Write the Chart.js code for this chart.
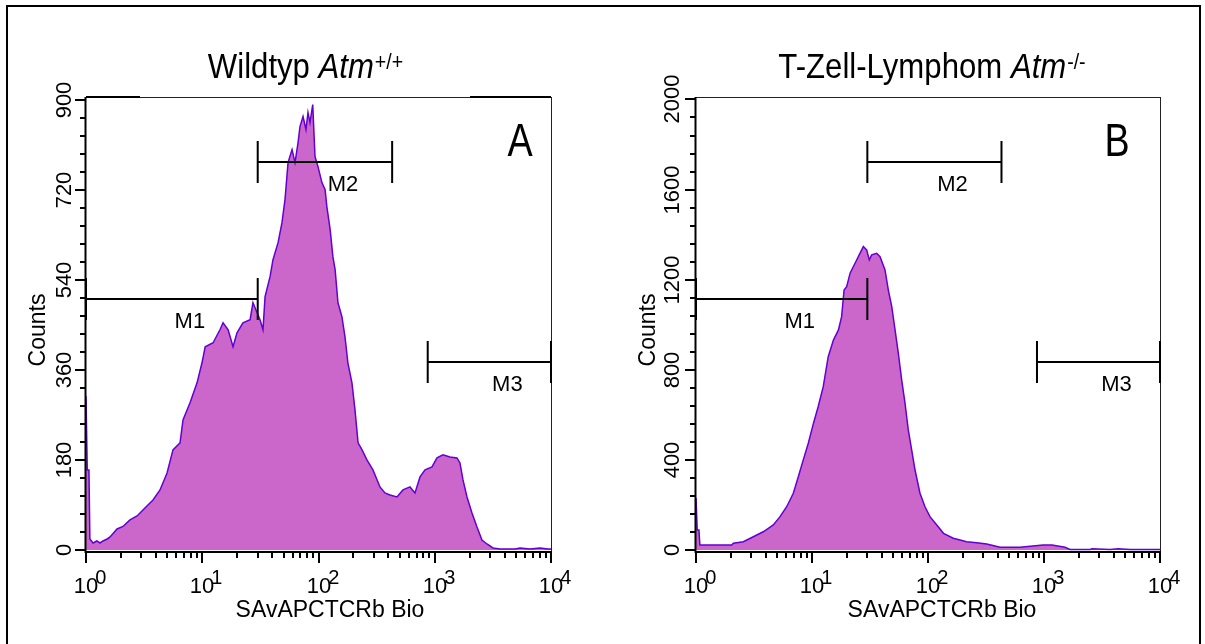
<!DOCTYPE html>
<html>
<head>
<meta charset="utf-8">
<script src="https://cdn.jsdelivr.net/npm/chart.js@4.4.1/dist/chart.umd.min.js"></script>
<style>
  html, body { margin: 0; padding: 0; background: #fff; overflow: hidden; }
  #page { position: relative; width: 1205px; height: 644px; }
  #frame { position: absolute; left: 6px; top: 5px; width: 1191px; height: 700px; border: 2px solid #000; }
  canvas { position: absolute; top: 0; }
</style>
</head>
<body>
<div id="page">
  <div id="frame"></div>
  <canvas id="chartA" width="602" height="644" style="left:0"></canvas>
  <canvas id="chartB" width="603" height="644" style="left:602px"></canvas>
</div>
<script>
// panel A: Wildtyp
const aX = [1.00, 1.02, 1.025, 1.06, 1.08, 1.15, 1.24, 1.32, 1.40, 1.52, 1.61, 1.71, 1.85, 2.08, 2.39, 2.75, 3.09, 3.55, 3.77, 4.33, 4.98,
  5.60, 6.44, 6.83, 7.85, 9.02, 9.95, 10.6, 12.4, 14.2, 15.1, 16.7, 18.4, 19.9, 22.4, 25.8, 27.3, 31.4, 33.3, 34.7, 38.3,
  40.6, 44.9, 48.5, 51.5, 54.7, 59.2, 62.8, 66.7, 69.3, 73.6, 78.0, 81.2, 84.5, 89.2, 93.3, 99.0, 107, 114, 118, 126,
  133, 139, 147, 159, 169, 179, 194, 206, 219, 237, 261, 294, 338, 373, 412, 473, 533, 612, 676, 747,
  825, 947, 1045, 1178, 1352, 1553, 1648, 1750, 1894, 2091, 2308, 2548, 2813, 3170, 3640, 4900, 5410, 6600, 8040, 9420, 10000];
const aCounts = [307, 307, 160, 160, 22, 14, 18, 14, 18, 22, 26, 33, 42, 47, 60, 68, 80, 94, 100, 120, 154,
  200, 214, 260, 294, 334, 374, 406, 414, 440, 454, 440, 406, 434, 454, 460, 494, 460, 440, 506, 546,
  580, 614, 654, 700, 774, 800, 774, 814, 846, 866, 840, 874, 854, 890, 786, 766, 734, 720, 686, 640,
  586, 560, 494, 466, 426, 374, 334, 280, 214, 200, 180, 160, 126, 114, 110, 106, 120, 126, 114, 146,
  160, 166, 184, 190, 186, 184, 174, 140, 106, 74, 46, 20, 12, 4, 2, 2, 4, 2, 4, 2, 2];

// panel B: T-Zell-Lymphom
const bX = [1.00, 1.02, 1.025, 1.06, 1.08, 1.20, 2.03, 2.10, 2.56, 3.12, 3.80, 4.64, 5.30, 6.05, 6.90, 7.62, 8.41, 9.29, 10.3, 11.3,
  12.5, 13.8, 15.3, 16.9, 18.0, 18.9, 19.9, 21.3, 23.5, 25.9, 27.7, 29.6, 31.2, 32.7, 36.1, 38.6, 42.6, 45.5, 48.7, 52.0,
  55.5, 59.3, 63.4, 67.6, 72.3, 77.3, 85.3, 94.2, 104, 119, 136, 165, 189, 215, 263, 321, 418, 621, 980, 1172,
  1518, 1675, 2496, 2594, 3710, 4346, 5510, 10000];
const bCounts = [231, 231, 89, 89, 22, 22, 22, 30, 37, 59, 81, 111, 148, 192, 252, 325, 400, 474, 563, 636,
  725, 858, 932, 977, 1036, 1154, 1169, 1229, 1273, 1317, 1347, 1332, 1288, 1310, 1317, 1302, 1243, 1154, 1080, 977,
  873, 755, 651, 533, 444, 355, 252, 192, 148, 111, 74, 52, 44, 37, 32, 27, 12, 12, 22, 22,
  12, 2, 2, 5, 2, 5, 2, 2];

// axis ticks
const xTicks = [1, 10, 100, 1000, 10000];
const xTickExp = ["0", "1", "2", "3", "4"];
const yTicksA = [0, 180, 360, 540, 720, 900];
const yTicksB = [0, 400, 800, 1200, 1600, 2000];

// markers M1..M3
const markerNames = ["M1", "M2", "M3"];
const markerLo = [1, 30, 870];
const markerHi = [30, 430, 10000];
const markerYA = [502, 776, 376];
const markerYB = [1116, 1723, 835];

const FONT = '"Liberation Sans", Arial, sans-serif';

function drawText(ctx, s, x, y, font, align, sx) {
    ctx.save();
    ctx.font = font;
    ctx.textAlign = align || "left";
    ctx.textBaseline = "alphabetic";
    ctx.translate(x, y);
    ctx.scale(sx || 1, 1);
    ctx.fillText(s, 0, 0);
    ctx.restore();
}

function drawTitle(ctx, cx, base, parts) {
    let sx = 0.89;
    let fonts = ["35px " + FONT, "italic 35px " + FONT, "22px " + FONT];
    let lifts = [0, 0, 9];
    let widths = parts.map(function (s, i) { ctx.font = fonts[i]; return ctx.measureText(s).width; });
    let total = widths[0] + widths[1] + widths[2] + 1;
    ctx.save();
    ctx.translate(cx - total * sx / 2, base);
    ctx.scale(sx, 1);
    let x = 0;
    for (let i = 0; i < parts.length; i++) {
        ctx.font = fonts[i];
        ctx.fillText(parts[i], x + (i === 2 ? 1 : 0), -lifts[i]);
        x += widths[i];
    }
    ctx.restore();
}

function panelPlugin(p) {
    return {
        id: "facsPanel",
        afterDatasetsDraw(chart) {
            let ctx = chart.ctx, xs = chart.scales.x, ys = chart.scales.y, ca = chart.chartArea;
            let off = p.offset;
            ctx.save();
            ctx.fillStyle = "#000";

            // thin top / right frame
            ctx.strokeStyle = "#222";
            ctx.lineWidth = 1;
            ctx.beginPath();
            ctx.moveTo(ca.left, ca.top + 0.5);
            ctx.lineTo(ca.right, ca.top + 0.5);
            ctx.moveTo(ca.right + 0.5, ca.top);
            ctx.lineTo(ca.right + 0.5, ca.bottom);
            ctx.stroke();
            ctx.strokeStyle = "#000";
            ctx.lineWidth = 2;
            p.topBars.forEach(function (b) {
                ctx.beginPath();
                ctx.moveTo(b[0] - off, ca.top);
                ctx.lineTo(b[1] - off, ca.top);
                ctx.stroke();
            });

            // axes
            ctx.beginPath();
            ctx.moveTo(ca.left - 0.5, ca.top);
            ctx.lineTo(ca.left - 0.5, ca.bottom + 1);
            ctx.moveTo(ca.left - 1, ca.bottom);
            ctx.lineTo(ca.right + 1, ca.bottom);
            ctx.stroke();

            // y ticks
            let step = p.yTicks[1] - p.yTicks[0];
            p.yTicks.forEach(function (v, k) {
                let y = Math.round(ys.getPixelForValue(v));
                ctx.beginPath();
                ctx.moveTo(ca.left - 11, y);
                ctx.lineTo(ca.left, y);
                ctx.stroke();
                if (k < p.yTicks.length - 1) {
                    for (let i = 1; i < 5; i++) {
                        let ym = Math.round(ys.getPixelForValue(v + i * step / 5));
                        ctx.beginPath();
                        ctx.moveTo(ca.left - 6, ym);
                        ctx.lineTo(ca.left, ym);
                        ctx.stroke();
                    }
                }
                ctx.save();
                ctx.translate(p.yLabelX - off, y);
                ctx.rotate(-Math.PI / 2);
                drawText(ctx, String(v), 0, 0, "22px " + FONT, "center", 1);
                ctx.restore();
            });

            // x ticks
            xTicks.forEach(function (d, k) {
                let x = Math.round(xs.getPixelForValue(d));
                ctx.beginPath();
                ctx.moveTo(x, ca.bottom);
                ctx.lineTo(x, ca.bottom + 11);
                ctx.stroke();
                if (k < xTicks.length - 1) {
                    for (let m = 2; m < 10; m++) {
                        let xm = Math.round(xs.getPixelForValue(m * d));
                        ctx.beginPath();
                        ctx.moveTo(xm, ca.bottom);
                        ctx.lineTo(xm, ca.bottom + 6);
                        ctx.stroke();
                    }
                }
                ctx.font = "22px " + FONT;
                let w = ctx.measureText("10").width;
                drawText(ctx, "10", x, 593, "22px " + FONT, "center", 1);
                drawText(ctx, xTickExp[k], x + w / 2 - 3, 584, "20px " + FONT, "left", 1);
            });

            // axis titles
            drawText(ctx, "SAvAPCTCRb Bio", p.xTitleX - off, 617, "23px " + FONT, "center", 1);
            ctx.save();
            ctx.translate(p.countsX - off, 330);
            ctx.rotate(-Math.PI / 2);
            drawText(ctx, "Counts", 0, 0, "23px " + FONT, "center", 1);
            ctx.restore();

            // markers
            markerNames.forEach(function (name, i) {
                let x1 = xs.getPixelForValue(markerLo[i]);
                let x2 = xs.getPixelForValue(markerHi[i]);
                let y = Math.round(ys.getPixelForValue(p.markerY[i]));
                ctx.beginPath();
                ctx.moveTo(x1, y);
                ctx.lineTo(x2, y);
                ctx.moveTo(x1, y - 21);
                ctx.lineTo(x1, y + 21);
                ctx.moveTo(x2, y - 21);
                ctx.lineTo(x2, y + 21);
                ctx.stroke();
                drawText(ctx, name, (x1 + x2) / 2 + 18, y + 29, "22px " + FONT, "center", 1);
            });

            // letter and title
            drawText(ctx, p.letter, p.letterX - off, 156, "46px " + FONT, "center", 0.82);
            drawTitle(ctx, p.titleX - off, 78, p.title);
            ctx.restore();
        }
    };
}

function makePanel(canvasId, p) {
    let config = {
        type: "line",
        data: {
            datasets: [
                {
                    data: p.xValues.map(function (x, i) { return { x: x, y: p.counts[i] }; }),
                    borderColor: "#6400D2",
                    backgroundColor: "#CB66CB",
                    borderWidth: 1.5,
                    fill: "origin",
                    pointRadius: 0,
                    tension: 0
                }
            ]
        },
        options: {
            responsive: false,
            animation: false,
            devicePixelRatio: 1,
            layout: { padding: p.padding },
            plugins: {
                legend: { display: false },
                tooltip: { enabled: false }
            },
            scales: {
                x: { type: "logarithmic", min: 1, max: 10000, display: false },
                y: { type: "linear", min: p.yMin, max: p.yMax, display: false }
            }
        },
        plugins: [panelPlugin(p)]
    };
    let ctx = document.getElementById(canvasId).getContext("2d");
    return new Chart(ctx, config);
}

makePanel("chartA", {
    offset: 0,
    xValues: aX,
    counts: aCounts,
    yTicks: yTicksA,
    yMin: -4,
    yMax: 905,
    markerY: markerYA,
    padding: { left: 86, right: 51, top: 97, bottom: 92 },
    topBars: [[86, 140], [470, 551]],
    yLabelX: 70.5,
    countsX: 45,
    xTitleX: 330,
    letter: "A",
    letterX: 520,
    titleX: 305.5,
    title: ["Wildtyp ", "Atm", "+/+"]
});

makePanel("chartB", {
    offset: 602,
    xValues: bX,
    counts: bCounts,
    yTicks: yTicksB,
    yMin: -8.9,
    yMax: 2011,
    markerY: markerYB,
    padding: { left: 94, right: 45, top: 97, bottom: 92 },
    topBars: [],
    yLabelX: 679,
    countsX: 655,
    xTitleX: 942,
    letter: "B",
    letterX: 1117,
    titleX: 932,
    title: ["T-Zell-Lymphom ", "Atm", "-/-"]
});
</script>
</body>
</html>
